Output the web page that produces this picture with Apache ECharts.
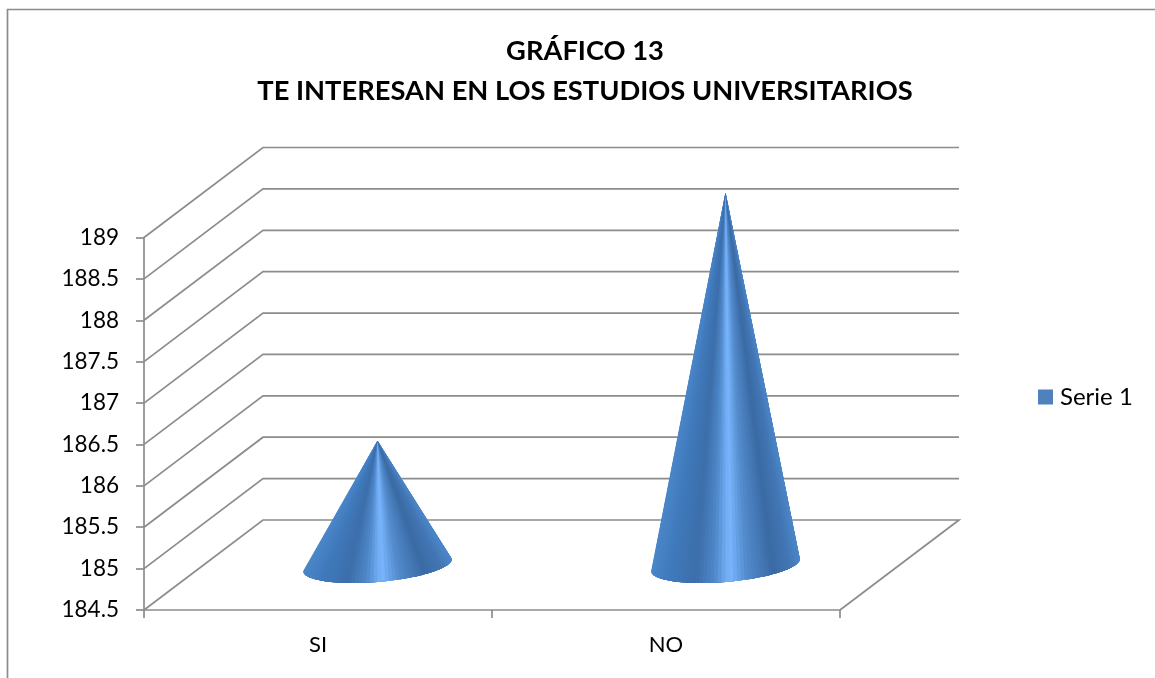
<!DOCTYPE html>
<html><head><meta charset="utf-8">
<style>html,body{margin:0;padding:0;background:#fff}#c{width:1155px;height:678px}</style>
<script src="https://cdn.jsdelivr.net/npm/echarts@6/dist/echarts.min.js"></script>
</head><body><div id="c"></div>
<script>
const categories = ['SI', 'NO'];
const serie1 = [186, 189];
const yTicks = [184.5, 185, 185.5, 186, 186.5, 187, 187.5, 188, 188.5, 189];
const yMin = 184.5, yMax = 189, yStep = 0.5;

const FONT = 'Lato, "Open Sans", sans-serif';
const GREY = '#8c8c8c';
const LW = 1.7;
const DX = 119, DY = 90;
const RX = 70, BX = 25, BY = 18;
const shade = [[0,[74,134,200]],[0.12,[64,122,188]],[0.3,[60,110,170]],[0.42,[78,135,200]],[0.53,[122,182,255]],[0.64,[84,140,205]],[0.82,[58,106,164]],[0.93,[66,118,180]],[1,[76,134,200]]];
function shadeAt(f){
  for(let i=1;i<shade.length;i++){
    if(f<=shade[i][0]){
      const a=shade[i-1],b=shade[i],k=(f-a[0])/(b[0]-a[0]);
      const c=a[1].map((v,j)=>Math.round(v+(b[1][j]-v)*k));
      return 'rgb('+c.join(',')+')';
    }
  }
  return 'rgb(76,134,200)';
}

function renderWall(params, api){
  const v = api.value(0), cs = params.coordSys;
  const y = api.coord([0, v])[1];
  const x0 = cs.x, x1 = cs.x + cs.width;
  const pts = [[x0,y],[x0+DX,y-DY],[x1+DX,y-DY]];
  if(v===yMin) pts.push([x1,y]);
  return {type:'polyline', shape:{points:pts}, style:{stroke:GREY, lineWidth:LW, fill:null}, silent:true};
}
function renderCone(params, api){
  const top = api.coord([api.value(0), api.value(1)]);
  const base = api.coord([api.value(0), yMin]);
  const ax = top[0]+DX/2, ay = top[1]-DY/2;
  const cx = base[0]+DX/2, cy = base[1]-DY/2;
  const t0 = Math.PI+Math.atan2(BX,RX), N = 60, w = Math.hypot(RX,BX);
  const pt = t => [cx+RX*Math.cos(t)+BX*Math.sin(t), cy-BY*Math.sin(t)];
  const children = [];
  for(let i=0;i<N;i++){
    const a=t0+Math.PI*i/N, mid=t0+Math.PI*(i+0.5)/N;
    const pts=[[ax,ay],pt(a)];
    for(let j=1;j<=6 && i+j<=N;j++) pts.push(pt(t0+Math.PI*(i+j)/N));
    children.push({type:'polygon', shape:{points:pts}, style:{fill:shadeAt((pt(mid)[0]-cx+w)/(2*w))}});
  }
  return {type:'group', children};
}

const chart = echarts.init(document.getElementById('c'), null, {renderer:'canvas'});
chart.setOption({
  animation:false,
  backgroundColor:'#fff',
  title:{text:'GRÁFICO 13\nTE INTERESAN EN LOS ESTUDIOS UNIVERSITARIOS', left:580, top:26, textAlign:'center',
    textStyle:{fontFamily:FONT, fontSize:27.3, fontWeight:'bold', color:'#000', lineHeight:40}},
  legend:{data:[{name:'Serie 1', icon:'rect', itemStyle:{color:'#4f81bd'}}], left:1033, top:380, itemWidth:15, itemHeight:15, itemGap:6,
    textStyle:{fontFamily:FONT, fontSize:24, color:'#000', padding:[0,0,0,2]}, selectedMode:false},
  grid:{left:144, top:237.5, width:696, height:372.5},
  xAxis:{type:'category', data:categories, axisLine:{lineStyle:{color:GREY, width:LW}},
    axisTick:{show:true, length:8, lineStyle:{color:GREY, width:LW}},
    axisLabel:{fontFamily:FONT, fontSize:22, color:'#000', margin:24}},
  yAxis:{type:'value', min:yMin, max:yMax, interval:yStep, splitLine:{show:false},
    axisLine:{show:true, lineStyle:{color:GREY, width:LW}},
    axisTick:{show:true, length:8, lineStyle:{color:GREY, width:LW}},
    axisLabel:{fontFamily:FONT, fontSize:22.5, color:'#000', margin:25}},
  series:[
    {type:'custom', name:'paredes', renderItem:renderWall, data:yTicks.map(v=>[v]), encode:{y:0}, z:1, silent:true},
    {type:'custom', name:'Serie 1', renderItem:renderCone, data:categories.map((c,i)=>[i,serie1[i]]), encode:{x:0,y:1}, z:3, itemStyle:{color:'#4f81bd'}}
  ],
  graphic:[
    {type:'polyline', shape:{points:[[7.5,678],[7.5,9.5],[1155,9.5]]}, style:{stroke:GREY, lineWidth:LW, fill:null}, silent:true}
  ]
});
</script></body></html>
